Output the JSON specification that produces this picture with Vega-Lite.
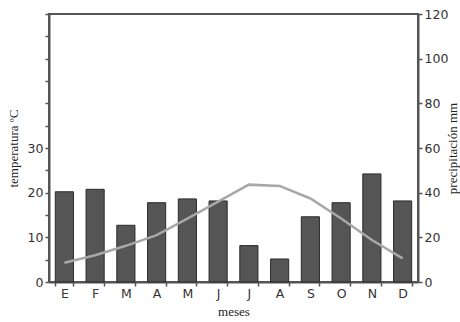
{
  "$schema": "https://vega.github.io/schema/vega-lite/v6.json",
  "width": 369,
  "height": 268,
  "autosize": "none",
  "padding": {"left": 49, "top": 14, "right": 42, "bottom": 40},
  "background": "white",
  "config": {
    "view": {"stroke": "#555", "strokeWidth": 2},
    "font": "DejaVu Sans",
    "axis": {
      "domainColor": "#555", "domainWidth": 2, "tickColor": "#555", "tickWidth": 1.5, "tickSize": 4,
      "labelColor": "#333", "labelFontSize": 12.5, "labelPadding": 2, "grid": false,
      "titleFont": "Liberation Serif", "titleFontWeight": "normal", "titleFontSize": 13, "titleColor": "#222"
    }
  },
  "data": {"values": [
    {"mes": "Enero", "precip": 40.4, "temp": 4.3},
    {"mes": "Febrero", "precip": 41.5, "temp": 6.0},
    {"mes": "Marzo", "precip": 25.4, "temp": 8.1},
    {"mes": "Abril", "precip": 35.5, "temp": 10.5},
    {"mes": "Mayo", "precip": 37.2, "temp": 14.2},
    {"mes": "Junio", "precip": 36.3, "temp": 18.0},
    {"mes": "Julio", "precip": 16.3, "temp": 21.8},
    {"mes": "Agosto", "precip": 10.3, "temp": 21.5},
    {"mes": "Septiembre", "precip": 29.2, "temp": 18.7},
    {"mes": "Octubre", "precip": 35.5, "temp": 14.2},
    {"mes": "Noviembre", "precip": 48.4, "temp": 9.4},
    {"mes": "Diciembre", "precip": 36.3, "temp": 5.3}
  ]},
  "encoding": {
    "x": {
      "field": "mes", "type": "ordinal", "sort": null,
      "scale": {"paddingInner": 0.41, "paddingOuter": 0.205},
      "axis": {"title": "meses", "labelAngle": 0, "tickBand": "extent", "labelExpr": "substring(datum.label, 0, 1)", "labelPadding": 1, "titlePadding": 6}
    }
  },
  "layer": [
    {
      "mark": {"type": "bar", "fill": "#555", "stroke": "#2a2a2a", "strokeWidth": 1},
      "encoding": {
        "y": {"field": "precip", "type": "quantitative", "scale": {"domain": [0, 120]},
          "axis": {"orient": "right", "title": "precipitación mm", "values": [0, 20, 40, 60, 80, 100, 120],
            "titleAngle": 270, "titleX": 34, "titleY": 134, "titleAlign": "center", "titleBaseline": "middle"}}
      }
    },
    {
      "mark": {"type": "line", "color": "#a8a8a8", "strokeWidth": 2.5},
      "encoding": {
        "y": {"field": "temp", "type": "quantitative", "scale": {"domain": [0, 60]},
          "axis": {"orient": "left", "title": "temperatura ºC", "values": [0, 5, 10, 15, 20, 25, 30, 35, 40, 45, 50, 55, 60],
            "labelExpr": "datum.value <= 30 && datum.value % 10 == 0 ? datum.label : ''",
            "titleAngle": 270, "titleX": -36, "titleY": 134, "titleAlign": "center", "titleBaseline": "middle"}}
      }
    }
  ],
  "resolve": {"scale": {"y": "independent"}}
}
